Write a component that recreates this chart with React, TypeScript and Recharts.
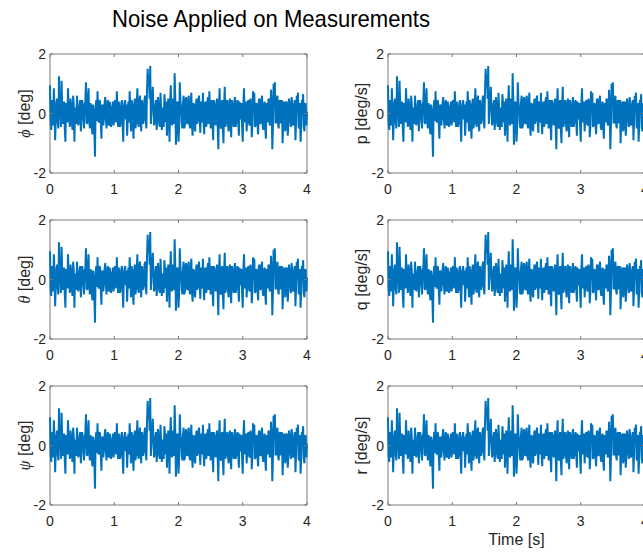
import React from 'react';
import { LineChart, Line, XAxis, YAxis, ReferenceArea } from 'recharts';

// sample step of the noise record [s]
const sampleStep = 0.01;

// noise at t = 0, 0.02, 0.04 ... 4.00 s (same record in every subplot)
const noiseEven = [
  0.95, -0.55, 0.2, 0.85, -0.9, 0.35, -0.3, 1.25, 0.1, 1.1,
  -0.35, 0.4, -0.95, 0.3, 0.85, -0.2, 0.5, -0.3, 0.6, -0.95,
  0.15, 0.6, -0.4, 0.3, -0.6, 0.45, -0.2, 0.3, 1.05, -0.35,
  0.85, -0.5, 0.25, -0.7, 0.1, -1.45, 0.45, 0.75, -0.3, 0.4,
  -0.85, 0.3, -0.1, 0.55, -0.5, 0.45, -0.4, 0.2, -0.3, 0.4,
  -0.15, 0.3, 0.75, -0.45, 0.2, -0.3, 0.45, -0.95, 0.35, -0.2,
  -0.75, 0.4, 0.75, -0.6, 0.3, -0.85, 0.5, -0.3, 0.85, -0.45,
  0.6, -0.6, 0.3, -0.2, 0.6, -0.5, 1.5, 1.3, 1.6, 0.2,
  0.9, -0.4, 0.3, -0.55, 0.55, -0.35, 0.7, -0.55, 0.2, 0.65,
  -0.3, -0.75, 0.5, -0.95, 0.95, -0.4, 0.3, 1.35, -1.05, 0.4,
  -0.95, 1.05, 0.2, -0.5, 0.6, -0.4, 0.55, -0.35, 0.6, -0.5,
  0.7, -0.75, 0.3, -0.6, 0.5, -0.25, 0.6, -0.65, 0.2, 0.7,
  -0.7, 0.4, -0.3, 0.55, 0.75, -0.5, 0.45, -0.9, 0.3, -0.4,
  0.5, -1.2, 0.85, -0.5, 0.45, -1.0, 0.9, -0.3, 0.45, -0.6,
  0.5, -0.8, 0.3, -0.45, 0.55, -0.3, 0.45, -0.75, -0.2, 0.35,
  -0.95, 0.85, 0.2, -0.6, 0.4, -0.35, 0.5, -0.8, 0.75, 0.7,
  -0.4, 0.3, -0.7, 0.5, -0.3, 0.6, -0.55, 0.4, -0.85, 0.3,
  0.5, -0.4, 0.8, -1.2, 1.0, 1.05, -0.3, 0.6, -0.5, 0.45,
  -0.3, -1.0, 0.35, -0.6, 0.4, -0.75, 0.5, -0.2, 0.55, -0.35,
  0.25, -0.9, 0.6, 0.7, -0.5, -0.95, 0.45, 0.65, -0.6, 0.3,
  0.05,
];

// noise at t = 0.01, 0.03 ... 3.99 s (the dense core of the band)
const noiseOdd = [
  -0.3, 0.45, -0.4, 0.2, -0.2, 0.5, -0.5, 0.3, -0.45, 0.25,
  0.3, -0.5, 0.35, -0.3, 0.2, -0.45, 0.25, -0.55, 0.3, 0.2,
  -0.35, 0.1, -0.25, 0.45, -0.1, 0.3, -0.5, 0.4, -0.3, 0.45,
  -0.2, 0.35, -0.45, 0.3, -0.55, 0.2, -0.25, -0.2, 0.45, -0.3,
  0.25, -0.4, 0.35, -0.2, 0.3, -0.35, 0.4, -0.45, 0.2, -0.4,
  0.45, -0.3, 0.1, 0.4, -0.45, 0.35, -0.4, 0.2, 0.45, 0.3,
  -0.2, -0.3, 0.2, 0.45, -0.4, 0.3, -0.5, 0.35, -0.3, 0.4,
  -0.25, 0.45, -0.35, 0.45, -0.2, 0.8, 0.9, 0.5, -0.35, 0.45,
  0.1, -0.25, 0.45, -0.2, 0.3, -0.45, 0.1, -0.3, -0.45, 0.35,
  0.4, -0.2, 0.1, 0.3, -0.3, 0.5, -0.35, 0.45, -0.4, 0.35,
  -0.45, 0.4, -0.3, 0.35, -0.5, 0.45, -0.3, 0.4, -0.35, 0.3,
  -0.4, 0.35, -0.45, 0.25, -0.35, 0.45, -0.2, 0.4, -0.3, -0.25,
  0.3, -0.45, 0.4, -0.35, 0.2, 0.3, -0.4, 0.45, -0.3, 0.35,
  -0.4, 0.3, -0.45, 0.35, -0.5, 0.3, -0.45, 0.4, -0.35, 0.3,
  -0.4, 0.45, -0.3, 0.4, -0.45, 0.35, -0.3, 0.4, 0.3, -0.45,
  0.35, -0.3, 0.4, -0.2, 0.45, -0.4, 0.35, -0.4, 0.3, -0.45,
  0.35, -0.4, 0.45, -0.35, 0.4, -0.4, 0.3, -0.45, 0.35, -0.3,
  0.45, -0.35, 0.3, -0.45, 0.4, -0.3, 0.45, -0.35, 0.4, -0.3,
  0.45, -0.35, 0.4, -0.45, 0.35, -0.4, 0.3, -0.45, 0.35, -0.4,
  0.45, -0.3, 0.4, -0.45, 0.35, -0.4, 0.3, -0.45, 0.35, -0.4,
];

const xTicks = [0, 1, 2, 3, 4];
const yTicks = [-2, 0, 2];

const leftSymbols = ['ϕ', 'θ', 'ψ'];
const rightSymbols = ['p', 'q', 'r'];

const chartData: { t: number; noise: number }[] = [];
noiseEven.forEach((v, i) => {
  chartData.push({ t: Number((2 * i * sampleStep).toFixed(2)), noise: v });
  if (i < noiseOdd.length) {
    chartData.push({ t: Number(((2 * i + 1) * sampleStep).toFixed(2)), noise: noiseOdd[i] });
  }
});

const LINE_COLOR = '#0072BD';
const AXIS_COLOR = '#7a7a7a';
const TEXT_COLOR = '#262626';
const FONT = '"Liberation Sans", Arial, Helvetica, sans-serif';

const PLOT_W = 257;
const PLOT_H = 119;
const CHART_W = 317;
const CHART_H = 168;
const ROW_TOPS = [54, 220, 386];
const COL_LEFTS = [50, 388];

const BottomTick = (props: any) => {
  const { x, y, payload } = props;
  return (
    <g>
      <line x1={x} y1={y} x2={x} y2={y - 3} stroke={AXIS_COLOR} />
      <line x1={x} y1={y - PLOT_H} x2={x} y2={y - PLOT_H + 3} stroke={AXIS_COLOR} />
      <text x={x} y={y + 21} textAnchor="middle" fontSize={14} fontFamily={FONT} fill={TEXT_COLOR}>
        {payload.value}
      </text>
    </g>
  );
};

const LeftTick = (props: any) => {
  const { x, y, payload } = props;
  return (
    <g>
      <line x1={x} y1={y} x2={x + 3} y2={y} stroke={AXIS_COLOR} />
      <line x1={x + PLOT_W} y1={y} x2={x + PLOT_W - 3} y2={y} stroke={AXIS_COLOR} />
      <text x={x - 4} y={y + 5} textAnchor="end" fontSize={14} fontFamily={FONT} fill={TEXT_COLOR}>
        {payload.value}
      </text>
    </g>
  );
};

const Panel: React.FC<{ left: number; top: number }> = ({ left, top }) => (
  <div style={{ position: 'absolute', left: left - 50, top: top - 14 }}>
    <LineChart
      width={CHART_W}
      height={CHART_H}
      data={chartData}
      margin={{ top: 14, right: 10, left: 0, bottom: 0 }}
    >
      <XAxis
        dataKey="t"
        type="number"
        domain={[0, 4]}
        ticks={xTicks}
        interval={0}
        height={35}
        tickSize={0}
        tickMargin={0}
        tickLine={false}
        axisLine={false}
        tick={(p: any) => <BottomTick {...p} />}
      />
      <YAxis
        type="number"
        domain={[-2, 2]}
        ticks={yTicks}
        interval={0}
        width={50}
        tickSize={0}
        tickMargin={0}
        tickLine={false}
        axisLine={false}
        tick={(p: any) => <LeftTick {...p} />}
      />
      <Line
        type="linear"
        dataKey="noise"
        stroke={LINE_COLOR}
        strokeWidth={2}
        dot={false}
        isAnimationActive={false}
      />
      <ReferenceArea x1={0} x2={4} y1={-2} y2={2} fill="none" stroke={AXIS_COLOR} strokeWidth={1} />
    </LineChart>
  </div>
);

export default function App() {
  return (
    <div
      style={{
        position: 'absolute',
        left: 0,
        top: 0,
        width: 643,
        height: 553,
        overflow: 'hidden',
        background: '#ffffff',
      }}
    >
      {ROW_TOPS.map((top, r) =>
        COL_LEFTS.map((left, c) => <Panel key={`${r}-${c}`} left={left} top={top} />)
      )}
      <svg
        width={643}
        height={553}
        style={{ position: 'absolute', left: 0, top: 0, pointerEvents: 'none' }}
      >
        <text
          x={271}
          y={27}
          textAnchor="middle"
          fontSize={24}
          fontFamily={FONT}
          fill="#000"
          textLength={318}
          lengthAdjust="spacingAndGlyphs"
        >
          Noise Applied on Measurements
        </text>
        {ROW_TOPS.map((top, r) => {
          const cy = top + PLOT_H / 2;
          const lx = COL_LEFTS[0] - 26;
          const rx = COL_LEFTS[1] - 27;
          return (
            <g key={r}>
              <text
                transform={`translate(${lx},${cy}) rotate(-90)`}
                textAnchor="middle"
                dy="0.35em"
                fontSize={16}
                fontFamily={FONT}
                fill={TEXT_COLOR}
              >
                <tspan fontStyle="italic" fontFamily='"Liberation Serif", serif'>
                  {leftSymbols[r]}
                </tspan>
                {' [deg]'}
              </text>
              <text
                transform={`translate(${rx},${cy}) rotate(-90)`}
                textAnchor="middle"
                dy="0.35em"
                fontSize={16}
                fontFamily={FONT}
                fill={TEXT_COLOR}
              >
                {`${rightSymbols[r]} [deg/s]`}
              </text>
            </g>
          );
        })}
        <text
          x={COL_LEFTS[1] + PLOT_W / 2}
          y={545}
          textAnchor="middle"
          fontSize={16}
          fontFamily={FONT}
          fill={TEXT_COLOR}
        >
          Time [s]
        </text>
      </svg>
    </div>
  );
}
